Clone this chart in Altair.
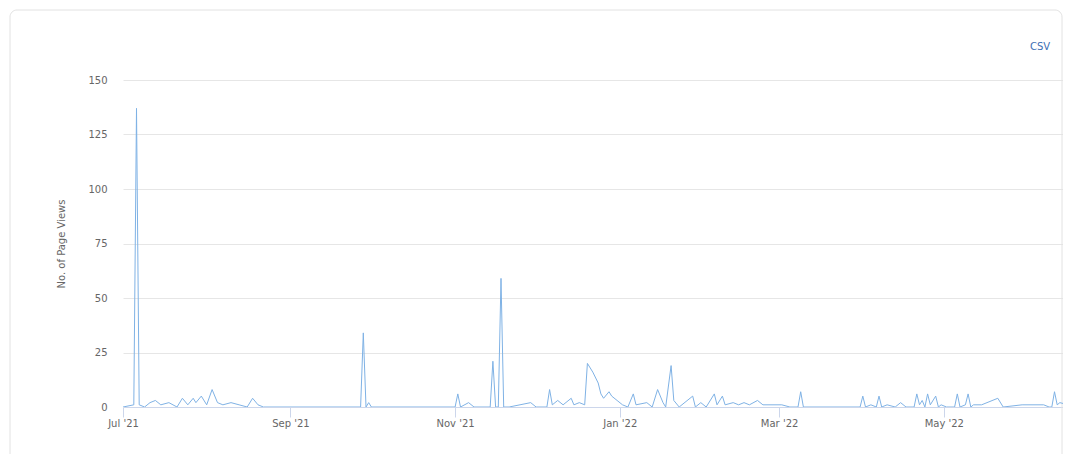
import altair as alt
import pandas as pd

# ---- data (daily page views) ----
dates = [
    "2021-07-01", "2021-07-05", "2021-07-06", "2021-07-07", "2021-07-09", "2021-07-11",
    "2021-07-13", "2021-07-15", "2021-07-18", "2021-07-21", "2021-07-23", "2021-07-25",
    "2021-07-27", "2021-07-28", "2021-07-30", "2021-08-01", "2021-08-03", "2021-08-05",
    "2021-08-07", "2021-08-10", "2021-08-13", "2021-08-16", "2021-08-18", "2021-08-20",
    "2021-08-22", "2021-09-27", "2021-09-28", "2021-09-29", "2021-09-30", "2021-10-01",
    "2021-11-01", "2021-11-02", "2021-11-03", "2021-11-06", "2021-11-08", "2021-11-14",
    "2021-11-15", "2021-11-16", "2021-11-17", "2021-11-18", "2021-11-19", "2021-11-21",
    "2021-11-29", "2021-12-01", "2021-12-05", "2021-12-06", "2021-12-07", "2021-12-09",
    "2021-12-11", "2021-12-14", "2021-12-15", "2021-12-17", "2021-12-19", "2021-12-20",
    "2021-12-22", "2021-12-24", "2021-12-25", "2021-12-26", "2021-12-28", "2021-12-29",
    "2021-12-31", "2022-01-02", "2022-01-04", "2022-01-06", "2022-01-07", "2022-01-11",
    "2022-01-13", "2022-01-15", "2022-01-17", "2022-01-18", "2022-01-20", "2022-01-21",
    "2022-01-23", "2022-01-28", "2022-01-29", "2022-01-31", "2022-02-02", "2022-02-05",
    "2022-02-06", "2022-02-08", "2022-02-09", "2022-02-12", "2022-02-14", "2022-02-16",
    "2022-02-18", "2022-02-21", "2022-02-23", "2022-02-26", "2022-03-02", "2022-03-05",
    "2022-03-08", "2022-03-09", "2022-03-10", "2022-03-31", "2022-04-01", "2022-04-02",
    "2022-04-04", "2022-04-06", "2022-04-07", "2022-04-08", "2022-04-10", "2022-04-13",
    "2022-04-15", "2022-04-17", "2022-04-20", "2022-04-21", "2022-04-22", "2022-04-23",
    "2022-04-24", "2022-04-25", "2022-04-26", "2022-04-28", "2022-04-29", "2022-04-30",
    "2022-05-02", "2022-05-05", "2022-05-06", "2022-05-07", "2022-05-09", "2022-05-10",
    "2022-05-11", "2022-05-12", "2022-05-15", "2022-05-21", "2022-05-23", "2022-05-30",
    "2022-06-07", "2022-06-09", "2022-06-10", "2022-06-11", "2022-06-12", "2022-06-13",
    "2022-06-16", "2022-06-17",
]
views = [
    0, 1, 137, 1, 0, 2,
    3, 1, 2, 0, 4, 1,
    4, 2, 5, 1, 8, 2,
    1, 2, 1, 0, 4, 1,
    0, 0, 34, 0, 2, 0,
    0, 6, 0, 2, 0, 0,
    21, 0, 0, 59, 0, 0,
    2, 0, 0, 8, 1, 3,
    1, 4, 1, 2, 1, 20,
    16, 11, 6, 4, 7, 5,
    3, 1, 0, 6, 1, 2,
    0, 8, 2, 0, 19, 3,
    0, 5, 0, 2, 0, 6,
    1, 5, 1, 2, 1, 2,
    1, 3, 1, 1, 1, 0,
    0, 7, 0, 0, 5, 0,
    1, 0, 5, 0, 1, 0,
    2, 0, 0, 6, 1, 3,
    0, 6, 1, 5, 0, 1,
    0, 0, 6, 0, 1, 6,
    0, 1, 1, 4, 0, 1,
    1, 0, 0, 7, 1, 2,
    1, 0,
]
x_tick_dates = ["2021-07-01", "2021-09-01", "2021-11-01", "2022-01-01", "2022-03-01", "2022-05-01"]
x_domain = ["2021-07-01", "2022-07-01"]
y_ticks = [0, 25, 50, 75, 100, 125, 150]
y_title = "No. of Page Views"
link_label = "CSV"

FONT = "DejaVu Sans"


def dt(s):
    y, m, d = (int(p) for p in s.split("-"))
    return alt.DateTime(year=y, month=m, date=d, utc=True)


df = pd.DataFrame({"date": dates, "views": views})
one = pd.DataFrame({"k": [0]})

card = alt.Chart(one).mark_rect(
    fill="white", fillOpacity=0, stroke="#e2e2e2", strokeWidth=1, cornerRadius=7
).encode(
    x=alt.value(-113), x2=alt.value(939), y=alt.value(-70), y2=alt.value(430)
)

line = alt.Chart(df).mark_line(color="#7fb2e5", strokeWidth=1, clip=True).encode(
    x=alt.X(
        "date:T",
        scale=alt.Scale(type="utc", domain=[dt(s) for s in x_domain], range=[0, 985.5]),
        axis=alt.Axis(
            values=[dt(s) for s in x_tick_dates],
            format="%b '%y",
            title=None,
            grid=False,
            domainColor="#ccd6eb",
            tickColor="#ccd6eb",
            tickSize=10,
            labelColor="#666666",
            labelFont=FONT,
            labelFontSize=10,
            labelPadding=1,
            labelFlush=False,
            labelOverlap=False,
        ),
    ),
    y=alt.Y(
        "views:Q",
        scale=alt.Scale(domain=[0, 150], nice=False),
        axis=alt.Axis(
            values=y_ticks,
            title=y_title,
            titleColor="#666666",
            titleFont=FONT,
            titleFontSize=10,
            titleFontWeight="normal",
            titlePadding=21,
            domain=False,
            ticks=False,
            gridColor="#e6e6e6",
            labelColor="#666666",
            labelFont=FONT,
            labelFontSize=10,
            labelPadding=16,
        ),
    ),
)

link = alt.Chart(one).mark_text(
    text=link_label, color="#3d6fb4", font=FONT, fontSize=10, align="center", baseline="middle"
).encode(x=alt.value(917), y=alt.value(-33))

chart = alt.layer(card, line, link).properties(
    width=940,
    height=327,
    autosize=alt.AutoSizeParams(type="none"),
    padding={"left": 115, "top": 72, "right": 0, "bottom": 47},
    background="white",
).configure_view(stroke="transparent")

chart.save("out.html", embed_options={"renderer": "svg", "actions": False})
